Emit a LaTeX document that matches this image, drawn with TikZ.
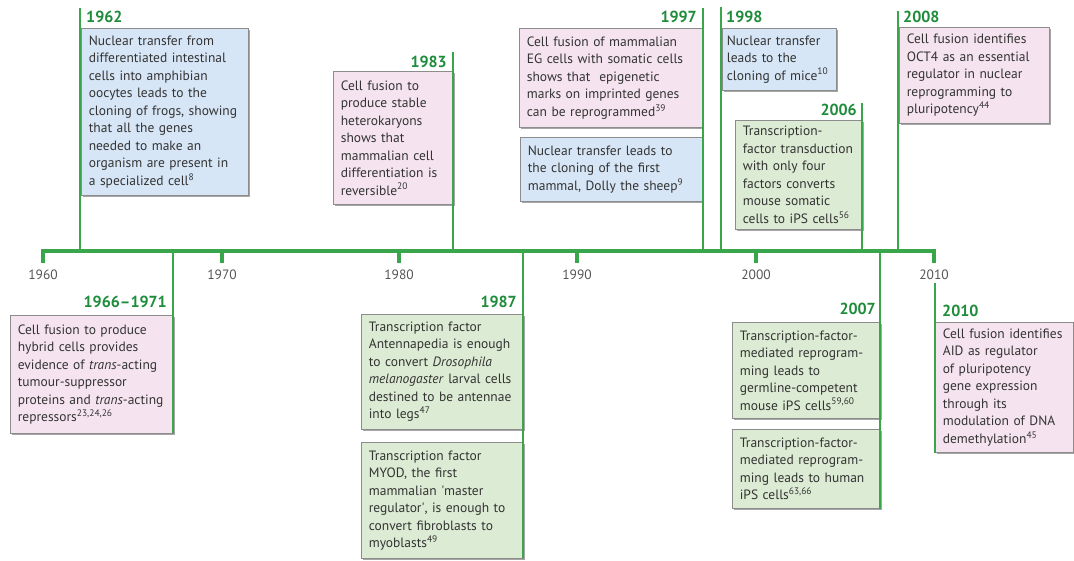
\documentclass[tikz,border=0pt]{standalone}
\usepackage{fontspec}
\setmainfont{PT Sans}
\usetikzlibrary{shadows}
\definecolor{axisg}{HTML}{3AA64C}
\definecolor{yearg}{HTML}{1E8C3A}
\definecolor{bluef}{HTML}{D7E6F6}
\definecolor{pinkf}{HTML}{F5E4EF}
\definecolor{greenf}{HTML}{DCEBD3}
\definecolor{boxl}{HTML}{8C8C8C}
\definecolor{txt}{HTML}{333333}
\definecolor{tickt}{HTML}{555555}
\newcommand\rf[1]{\textsuperscript{#1}}
\begin{document}
\begin{tikzpicture}[x=1pt,y=-1pt,
  evbox/.style={draw=boxl, line width=0.7pt, drop shadow={shadow xshift=1.2pt, shadow yshift=-1.2pt, opacity=0.35, fill=black},
    inner xsep=7.5pt, inner ysep=0pt, align=left, anchor=north west,
    font=\fontsize{13.5}{17.5}\selectfont, text=txt},
  yearlbl/.style={font=\fontsize{16}{18}\selectfont\bfseries, text=yearg, inner sep=0pt},
  ticklbl/.style={font=\fontsize{13.5}{16}\selectfont, text=tickt, inner sep=0pt},
  stem/.style={draw=axisg, line width=2.6pt},
  axisline/.style={draw=axisg, line width=4pt},
  ticklines/.style={draw=axisg, line width=4pt}]
\useasboundingbox (0,0) rectangle (1074,560);

% ---- top boxes ----
\node[evbox, fill=bluef, minimum width=167pt, text width=152pt, minimum height=167pt] (b1962) at (81,28)
{Nuclear transfer from\\ differentiated intestinal\\ cells into amphibian\\ oocytes leads to the\\ cloning of frogs, showing\\ that all the genes\\ needed to make an\\ organism are present in\\ a specialized cell\rf{8}};
\node[evbox, fill=pinkf, minimum width=120pt, text width=105pt, minimum height=133pt] (b1983) at (333,71)
{Cell fusion to\\ produce stable\\ heterokaryons\\ shows that\\ mammalian cell\\ differentiation is\\ reversible\rf{20}};
\node[evbox, fill=pinkf, minimum width=183pt, text width=168pt, minimum height=99pt] (b1997a) at (519,28)
{Cell fusion of mammalian\\ EG cells with somatic cells\\ shows that\ \ epigenetic\\ marks on imprinted genes\\ can be reprogrammed\rf{39}};
\node[evbox, fill=bluef, minimum width=182pt, text width=167pt, minimum height=64pt] (b1997b) at (520,137)
{Nuclear transfer leads to\\ the cloning of the first\\ mammal, Dolly the sheep\rf{9}};
\node[evbox, fill=bluef, inner xsep=4.5pt, minimum width=114pt, text width=105pt, minimum height=62pt] (b1998) at (722,28)
{Nuclear transfer\\ leads to the\\ cloning of mice\rf{10}};
\node[evbox, fill=greenf, minimum width=127pt, text width=112pt, minimum height=109pt] (b2006) at (735,120)
{Transcription-\\ factor transduction\\ with only four\\ factors converts\\ mouse somatic\\ cells to iPS cells\rf{56}};
\node[evbox, fill=pinkf, minimum width=150pt, text width=135pt, minimum height=96pt] (b2008) at (899,27)
{Cell fusion identifies\\ OCT4 as an essential\\ regulator in nuclear\\ reprogramming to\\ pluripotency\rf{44}};

% ---- bottom boxes ----
\node[evbox, fill=pinkf, minimum width=163pt, text width=148pt, minimum height=118pt] (b1966) at (10,315)
{Cell fusion to produce\\ hybrid cells provides\\ evidence of \textit{trans}-acting\\ tumour-suppressor\\ proteins and \textit{trans}-acting\\ repressors\rf{23,24,26}};
\node[evbox, fill=greenf, minimum width=162pt, text width=147pt, minimum height=115pt] (b1987a) at (361,314)
{Transcription factor\\ Antennapedia is enough\\ to convert \textit{Drosophila}\\ \textit{melanogaster} larval cells\\ destined to be antennae\\ into legs\rf{47}};
\node[evbox, fill=greenf, minimum width=162pt, text width=147pt, minimum height=116pt] (b1987b) at (361,442)
{Transcription factor\\ MYOD, the first\\ mammalian \textquotesingle master\\ regulator\textquotesingle, is enough to\\ convert fibroblasts to\\ myoblasts\rf{49}};
\node[evbox, fill=greenf, minimum width=148pt, text width=133pt, minimum height=96pt] (b2007a) at (732,322)
{Transcription-factor-\\ mediated reprogram-\\ ming leads to\\ germline-competent\\ mouse iPS cells\rf{59,60}};
\node[evbox, fill=greenf, minimum width=148pt, text width=133pt, minimum height=79pt] (b2007b) at (732,429)
{Transcription-factor-\\ mediated reprogram-\\ ming leads to human\\ iPS cells\rf{63,66}};
\node[evbox, fill=pinkf, minimum width=138pt, text width=123pt, minimum height=130pt] (b2010) at (935,322)
{Cell fusion identifies\\ AID as regulator\\ of pluripotency\\ gene expression\\ through its\\ modulation of DNA\\ demethylation\rf{45}};

% ---- year labels ----
\node[yearlbl, anchor=west] (y1962) at (86,17) {1962};
\node[yearlbl, anchor=east] (y1983) at (447,62) {1983};
\node[yearlbl, anchor=east] (y1997) at (697,17) {1997};
\node[yearlbl, anchor=west] (y1998) at (726,17) {1998};
\node[yearlbl, anchor=east] (y2006) at (857,110) {2006};
\node[yearlbl, anchor=west] (y2008) at (903,17) {2008};
\node[yearlbl, anchor=east] (y1966) at (167,302) {1966–1971};
\node[yearlbl, anchor=east] (y1987) at (517,302) {1987};
\node[yearlbl, anchor=east] (y2007) at (876,309) {2007};
\node[yearlbl, anchor=west] (y2010) at (942,311) {2010};

% ---- axis ----
\coordinate (axL) at (41,251);
\coordinate (axR) at (936,251);
\draw[axisline] (axL) -- (axR);
\foreach \yr/\xx in {1960/43,1970/222,1980/399,1990/577,2000/756,2010/934}{
  \coordinate (tk\yr) at (\xx,251);
  \coordinate (tb\yr) at (\xx,263);
  \draw[ticklines] (tk\yr) -- (tb\yr);
  \node[ticklbl] (tl\yr) at (\xx,275) {\yr};
}

% ---- stems ----
\coordinate (s1962t) at (80,8);     \coordinate (s1962a) at (80,251);
\coordinate (s1983t) at (453,52);   \coordinate (s1983a) at (453,251);
\coordinate (s1997t) at (703,8);    \coordinate (s1997a) at (703,251);
\coordinate (s1998t) at (721,7);    \coordinate (s1998a) at (721,251);
\coordinate (s2006t) at (862,103);  \coordinate (s2006a) at (862,251);
\coordinate (s2008t) at (898,11);   \coordinate (s2008a) at (898,251);
\coordinate (s1966a) at (173,251);  \coordinate (s1966b) at (173,433);
\coordinate (s1987a) at (523,251);  \coordinate (s1987b) at (523,558);
\coordinate (s2007a) at (880,251);  \coordinate (s2007b) at (880,509);
\coordinate (s2010a) at (935,283);  \coordinate (s2010b) at (935,453);
\foreach \p/\q in {s1962t/s1962a,s1983t/s1983a,s1997t/s1997a,s1998t/s1998a,s2006t/s2006a,s2008t/s2008a,s1966a/s1966b,s1987a/s1987b,s2007a/s2007b,s2010a/s2010b}
  \draw[stem] (\p) -- (\q);
\end{tikzpicture}
\end{document}
